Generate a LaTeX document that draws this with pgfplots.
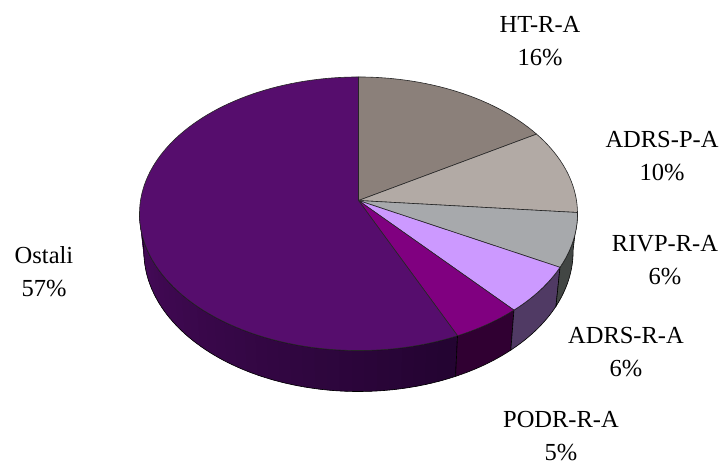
\documentclass[border=0pt]{standalone}
\usepackage{fontspec}
\setmainfont{Liberation Serif}
\usepackage{pgfplots}
\usepackage{pgfplotstable}
\pgfplotsset{compat=1.18}

\definecolor{cHT}{RGB}{139,128,122}
\definecolor{cAP}{RGB}{178,170,165}
\definecolor{cRI}{RGB}{167,169,172}
\definecolor{cAR}{RGB}{204,153,255}
\definecolor{cPO}{RGB}{128,0,128}
\definecolor{cOS}{RGB}{86,13,109}
\definecolor{sRI}{RGB}{66,70,68}
\definecolor{sAR}{RGB}{80,58,100}
\definecolor{sPO}{RGB}{48,0,50}
\definecolor{sOSa}{RGB}{36,4,50}
\definecolor{sOSb}{RGB}{72,10,92}

% shares in percent, clockwise from twelve o'clock
\pgfplotstableread{
name   share top
HT-R-A 16.4 cHT
ADRS-P 10.0 cAP
RIVP-R 6.4  cRI
ADRS-R 5.7  cAR
PODR-R 4.7  cPO
Ostali 56.8 cOS
}\slices

% outline helpers, in pixels of the picture
\newcommand\addarc[3]{%
  \pgfmathtruncatemacro\nst{max(1,ceil(abs(#2-#1)/2))}%
  \foreach \k in {0,...,\nst}{%
    \pgfmathsetmacro\ang{#1+(#2-#1)/\nst*\k}%
    \pgfmathsetmacro\ww{1+0.0969*cos(\ang)}%
    \pgfmathsetmacro\X{358.5+218*sin(\ang)/\ww}%
    \pgfmathsetmacro\Y{200.5-135.5*cos(\ang)/\ww}%
    \ifnum#3=1
      \pgfmathsetmacro\Yb{\Y+39+0.024*(\Y-268)}%
      \pgfmathsetmacro\X{358.5+0.98*(\X-358.5)}%
      \let\Y\Yb
    \fi
    \xdef\pts{\pts (\X,\Y) }%
  }%
}
\newcommand\wallpts[2]{\xdef\pts{}\addarc{#1}{#2}{0}\addarc{#2}{#1}{1}}
\newcommand\toppts[2]{\xdef\pts{(358.5,200.5) }\addarc{#1}{#2}{0}}
\newcommand\fillpts[1]{\edef\tmp{\noexpand\addplot[#1] coordinates {\pts} --cycle;}\tmp}

\begin{document}
\begin{tikzpicture}[lbl/.style={font=\fontsize{24.5}{33}\selectfont, align=center}]
% slice boundaries
\gdef\acc{0}
\expandafter\xdef\csname thA0\endcsname{0}
\foreach \i in {0,...,5}{
  \pgfplotstablegetelem{\i}{share}\of\slices
  \pgfmathsetmacro\nxt{\acc+3.6*\pgfplotsretval}
  \xdef\acc{\nxt}
  \pgfmathtruncatemacro\j{\i+1}
  \expandafter\xdef\csname thA\j\endcsname{\acc}
}
\begin{axis}[
  scale only axis,
  width=723pt,
  height=466pt,
  xmin=0, xmax=723,
  ymin=0, ymax=466,
  y dir=reverse,
  hide axis,
  clip=false,
]
\path (axis cs:0,0) rectangle (axis cs:723,466);
% wall of Ostali, in overlapping bands, painted from the left end inward
\foreach \b in {36,35,...,0}{
  \pgfmathsetmacro\aa{\csname thA5\endcsname+\b*3}
  \pgfmathsetmacro\bb{min(\aa+5,265)}
  \pgfmathtruncatemacro\p{\b*100/36}
  \wallpts{\aa}{\bb}
  \fillpts{draw=none, fill=sOSb!\p!sOSa}
}
\wallpts{\csname thA5\endcsname}{265}
\fillpts{draw=black, line width=0.6pt, fill=none}
\wallpts{\csname thA4\endcsname}{\csname thA5\endcsname}
\fillpts{draw=black, line width=0.6pt, fill=sPO}
\wallpts{\csname thA3\endcsname}{\csname thA4\endcsname}
\fillpts{draw=black, line width=0.6pt, fill=sAR}
\wallpts{\csname thA2\endcsname}{\csname thA3\endcsname}
\fillpts{draw=black, line width=0.6pt, fill=sRI}
% top of the pie
\foreach \i in {0,...,5}{
  \pgfplotstablegetelem{\i}{top}\of\slices
  \edef\col{\pgfplotsretval}
  \pgfmathtruncatemacro\j{\i+1}
  \toppts{\csname thA\i\endcsname}{\csname thA\j\endcsname}
  \fillpts{draw=black!85, line width=0.6pt, line join=round, fill=\col}
}
\node[lbl] at (axis cs:540,41) {HT-R-A\\16\%};
\node[lbl] at (axis cs:662,156) {ADRS-P-A\\10\%};
\node[lbl] at (axis cs:665,260) {RIVP-R-A\\6\%};
\node[lbl] at (axis cs:626,352) {ADRS-R-A\\6\%};
\node[lbl] at (axis cs:561,436) {PODR-R-A\\5\%};
\node[lbl] at (axis cs:44,272) {Ostali\\57\%};
\end{axis}
\end{tikzpicture}
\end{document}
